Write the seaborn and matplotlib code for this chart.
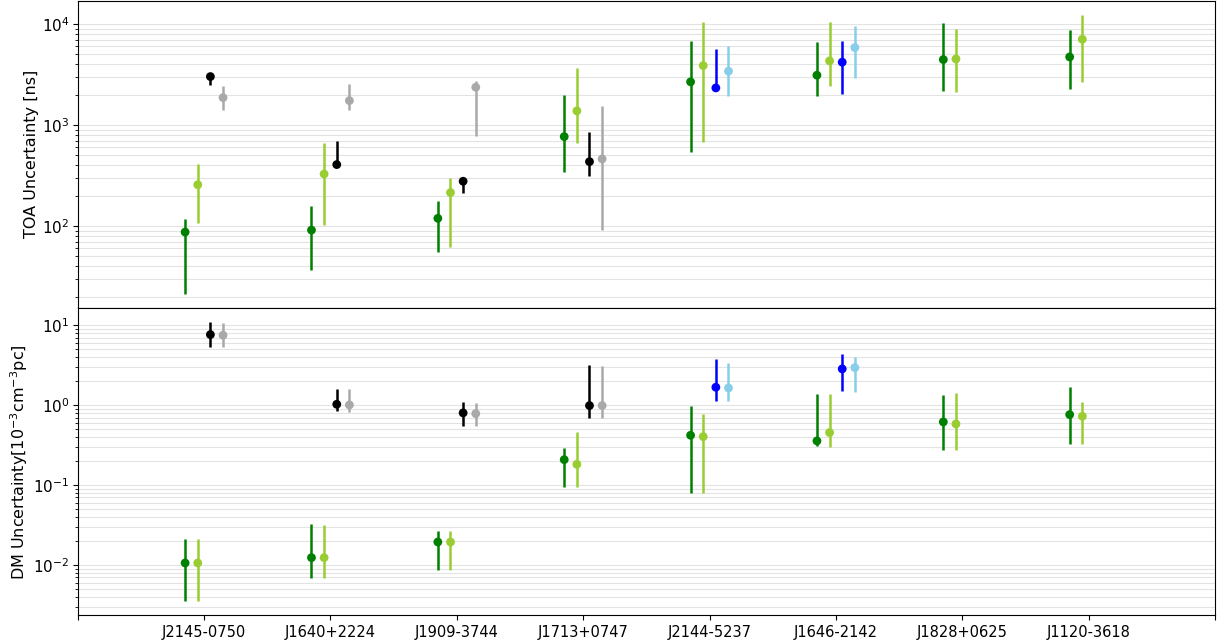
import numpy as np
import pandas as pd
import matplotlib
matplotlib.use("Agg")
import matplotlib.pyplot as plt
import seaborn as sns

# pulsars along the x axis
pulsars = ["J2145-0750", "J1640+2224", "J1909-3744", "J1713+0747",
           "J2144-5237", "J1646-2142", "J1828+0625", "J1120-3618"]

# each entry: (value, lower end of bar, upper end of bar); None = not measured
# TOA uncertainty [ns]
toa_green = [(87, 21.2, 117), (91, 36.6, 158), (119, 54.8, 178), (766, 341, 1968),
             (2670, 545, 6740), (3105, 1922, 6590), (4436, 2153, 10160), (4710, 2254, 8650)]
toa_yellowgreen = [(256, 108, 408), (327, 102, 659), (214, 61.5, 301), (1377, 659, 3640),
                   (3865, 680, 10380), (4305, 2432, 10470), (4500, 2122, 8920), (7050, 2684, 12360)]
toa_black = [(3010, 2470, 3010), (405, 405, 700), (277, 211, 277), (433, 315, 859),
             None, None, None, None]
toa_gray = [(1862, 1406, 2450), (1740, 1406, 2547), (2360, 783, 2730), (461, 91, 1542),
            None, None, None, None]
toa_blue = [None, None, None, None, (2324, 2324, 5700), (4180, 2013, 6790), None, None]
toa_skyblue = [None, None, None, None, (3404, 1950, 6095), (5830, 2940, 9550), None, None]

# DM uncertainty [1e-3 cm^-3 pc]
dm_green = [(0.0106, 0.00351, 0.0210), (0.01236, 0.00695, 0.0323), (0.0194, 0.00875, 0.0269),
            (0.208, 0.0938, 0.289), (0.42, 0.0789, 0.988), (0.357, 0.309, 1.38),
            (0.617, 0.278, 1.33), (0.762, 0.330, 1.69)]
dm_yellowgreen = [(0.0106, 0.00351, 0.0210), (0.01236, 0.00695, 0.0318), (0.0194, 0.00875, 0.0269),
                  (0.182, 0.0938, 0.458), (0.404, 0.0789, 0.777), (0.454, 0.303, 1.36),
                  (0.582, 0.278, 1.44), (0.726, 0.330, 1.11)]
dm_black = [(7.64, 5.35, 11.0), (1.026, 0.855, 1.61), (0.80, 0.55, 1.087), (0.988, 0.686, 3.16),
            None, None, None, None]
dm_gray = [(7.50, 5.35, 10.8), (1.007, 0.823, 1.58), (0.784, 0.55, 1.067), (0.988, 0.686, 3.10),
           None, None, None, None]
dm_blue = [None, None, None, None, (1.675, 1.12, 3.75), (2.84, 1.52, 4.42), None, None]
dm_skyblue = [None, None, None, None, (1.64, 1.12, 3.41), (2.95, 1.47, 4.06), None, None]

# colour and horizontal offset of each series
series_style = [
    ("green", -0.15),
    ("yellowgreen", -0.05),
    ("black", 0.05),
    ("darkgray", 0.15),
    ("blue", 0.05),
    ("skyblue", 0.15),
]


def to_frame(series_list):
    rows = []
    for (color, offset), data in zip(series_style, series_list):
        for i, entry in enumerate(data):
            if entry is None:
                continue
            val, lo, hi = entry
            rows.append({"x": i + 1 + offset, "val": val, "lo": lo, "hi": hi, "series": color})
    return pd.DataFrame(rows)


toa_df = to_frame([toa_green, toa_yellowgreen, toa_black, toa_gray, toa_blue, toa_skyblue])
dm_df = to_frame([dm_green, dm_yellowgreen, dm_black, dm_gray, dm_blue, dm_skyblue])
palette = {c: c for c, _ in series_style}

fig, (ax_toa, ax_dm) = plt.subplots(2, 1, sharex=True, figsize=(12.2, 6.41), dpi=100)
fig.subplots_adjust(left=0.0637, right=0.9959, top=0.999, bottom=0.0401, hspace=0)

for ax, df in [(ax_toa, toa_df), (ax_dm, dm_df)]:
    ax.set_yscale("log")
    ax.set_axisbelow(True)
    ax.grid(which="both", axis="y", color="0.89", linewidth=0.8)
    # error bars
    for color, sub in df.groupby("series", sort=False):
        ax.vlines(sub["x"], sub["lo"], sub["hi"], colors=color, linewidth=1.8, zorder=2)
    # central values
    sns.scatterplot(data=df, x="x", y="val", hue="series", palette=palette,
                    s=40, linewidth=0, legend=False, zorder=3, ax=ax)
    ax.set_xlabel("")
    # log-space 5% margin around the bar extents
    lmin, lmax = np.log10(df["lo"].min()), np.log10(df["hi"].max())
    pad = 0.05 * (lmax - lmin)
    ax.set_ylim(10 ** (lmin - pad), 10 ** (lmax + pad))
    ax.tick_params(axis="x", labelsize=10.5)
    ax.tick_params(axis="y", labelsize=11, pad=2.5)

ax_toa.set_ylabel("TOA Uncertainty [ns]", fontsize=11.5, labelpad=2)
ax_dm.set_ylabel(r"DM Uncertainty[10$^{-3}$cm$^{-3}$pc]", fontsize=11.5, labelpad=2)
ax_toa.tick_params(axis="x", bottom=False, labelbottom=False)

ax_dm.set_xlim(0, 9)
ax_dm.set_xticks(range(10))
ax_dm.set_xticklabels([""] + pulsars + [""])

fig.savefig("out.png", dpi=100)
